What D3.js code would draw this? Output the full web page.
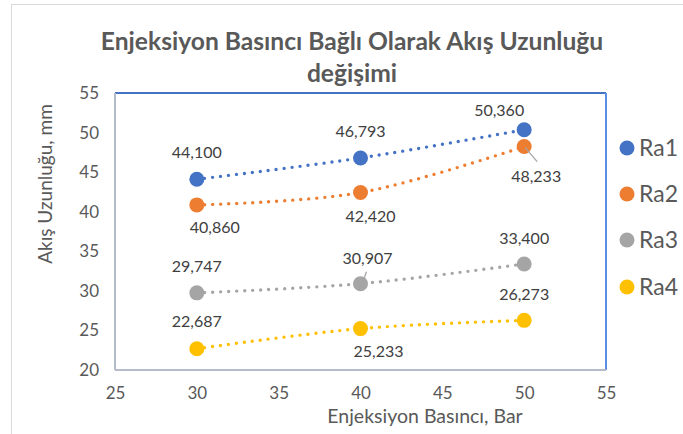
<!DOCTYPE html>
<html>
<head>
<meta charset="utf-8">
<script src="https://cdn.jsdelivr.net/npm/d3@7"></script>
<style>
  body { margin: 0; background: #fff; }
  text { font-family: Lato, "Noto Sans", sans-serif; }
</style>
</head>
<body>
<script>
// data
var pressures = [30, 40, 50];
var seriesNames = ["Ra1", "Ra2", "Ra3", "Ra4"];
var ra1 = [44.100, 46.793, 50.360];
var ra2 = [40.860, 42.420, 48.233];
var ra3 = [29.747, 30.907, 33.400];
var ra4 = [22.687, 25.233, 26.273];
var xTicks = [25, 30, 35, 40, 45, 50, 55];
var yTicks = [20, 25, 30, 35, 40, 45, 50, 55];

var colors = ["#4472C4", "#ED7D31", "#A5A5A5", "#FFC000"];
var allSeries = [ra1, ra2, ra3, ra4];

// label offsets in px relative to each point (layout, not data)
var labelOffsets = [
    [[0, -27], [0, -27], [-25, -19]],
    [[18, 22], [10, 24], [12, 30]],
    [[0, -27], [7, -25], [0, -26]],
    [[0, -27], [18, 23], [0, -26]]
];

var width = 683, height = 434;
var plotLeft = 115, plotRight = 606, plotTop = 93, plotBottom = 370;

var svg = d3.select("body")
    .append("svg")
    .attr("width", width)
    .attr("height", height);

// outer chart border
svg.append("rect")
    .attr("x", 11.5).attr("y", 4.5)
    .attr("width", 700).attr("height", 500)
    .attr("fill", "none")
    .attr("stroke", "#D9D9D9");

var x = d3.scaleLinear().domain([25, 55]).range([plotLeft, plotRight]);
var y = d3.scaleLinear().domain([20, 55]).range([plotBottom, plotTop]);

// title
svg.append("text")
    .attr("x", 352).attr("y", 50)
    .attr("text-anchor", "middle")
    .attr("font-size", 24.6)
    .attr("font-weight", "bold")
    .attr("fill", "#595959")
    .text("Enjeksiyon Basıncı Bağlı Olarak Akış Uzunluğu");
svg.append("text")
    .attr("x", 352).attr("y", 82)
    .attr("text-anchor", "middle")
    .attr("font-size", 24.6)
    .attr("font-weight", "bold")
    .attr("fill", "#595959")
    .text("değişimi");

// axes (labels only)
var xAxis = svg.append("g")
    .attr("transform", "translate(0," + plotBottom + ")")
    .call(d3.axisBottom(x).tickValues(xTicks).tickSize(0).tickPadding(17));
var yAxis = svg.append("g")
    .attr("transform", "translate(" + plotLeft + ",0)")
    .call(d3.axisLeft(y).tickValues(yTicks).tickSize(0).tickPadding(16));
[xAxis, yAxis].forEach(function(a) {
    a.select(".domain").remove();
    a.selectAll("text")
        .attr("font-family", "Lato, sans-serif")
        .attr("font-size", 17)
        .attr("fill", "#595959");
});

// plot area border
svg.append("line").attr("x1", plotLeft).attr("x2", plotRight).attr("y1", plotTop).attr("y2", plotTop)
    .attr("stroke", "#4472C4").attr("stroke-width", 2);
svg.append("line").attr("x1", plotRight).attr("x2", plotRight).attr("y1", plotTop).attr("y2", plotBottom)
    .attr("stroke", "#5B8EE0").attr("stroke-width", 2);
svg.append("line").attr("x1", plotLeft).attr("x2", plotLeft).attr("y1", plotTop).attr("y2", plotBottom)
    .attr("stroke", "#B4BCCC").attr("stroke-width", 2);
svg.append("line").attr("x1", plotLeft).attr("x2", plotRight).attr("y1", plotBottom).attr("y2", plotBottom)
    .attr("stroke", "#B4BCCC").attr("stroke-width", 2);

// axis titles
svg.append("text")
    .attr("x", 425).attr("y", 423)
    .attr("text-anchor", "middle")
    .attr("font-size", 19.5)
    .attr("fill", "#595959")
    .text("Enjeksiyon Basıncı, Bar");
svg.append("text")
    .attr("transform", "translate(52,184) rotate(-90)")
    .attr("text-anchor", "middle")
    .attr("font-size", 19)
    .attr("fill", "#595959")
    .text("Akış Uzunluğu, mm");

var line = d3.line()
    .x(function(d, i) { return x(pressures[i]); })
    .y(function(d) { return y(d); })
    .curve(d3.curveCardinal.tension(0));

function fmt(v) {
    return d3.format(".3f")(v).replace(".", ",");
}

allSeries.forEach(function(vals, s) {
    var g = svg.append("g");

    g.append("path")
        .attr("d", line(vals))
        .attr("fill", "none")
        .attr("stroke", colors[s])
        .attr("stroke-width", 3.4)
        .attr("stroke-linecap", "round")
        .attr("stroke-dasharray", "0 8");

    g.selectAll("circle")
        .data(vals)
        .enter()
        .append("circle")
        .attr("cx", function(d, i) { return x(pressures[i]); })
        .attr("cy", function(d) { return y(d); })
        .attr("r", 7.5)
        .attr("fill", colors[s]);
});

// leader lines for the two shifted labels
svg.append("line")
    .attr("x1", x(pressures[2]) + 1).attr("y1", y(ra2[2]) + 1)
    .attr("x2", x(pressures[2]) + 13).attr("y2", y(ra2[2]) + 15)
    .attr("stroke", "#A6A6A6").attr("stroke-width", 1.3);
svg.append("line")
    .attr("x1", x(pressures[1]) + 2).attr("y1", y(ra3[1]) - 1)
    .attr("x2", x(pressures[1]) + 6).attr("y2", y(ra3[1]) - 12)
    .attr("stroke", "#A6A6A6").attr("stroke-width", 1.3);

// data labels
allSeries.forEach(function(vals, s) {
    svg.append("g").selectAll("text")
        .data(vals)
        .enter()
        .append("text")
        .attr("x", function(d, i) { return x(pressures[i]) + labelOffsets[s][i][0]; })
        .attr("y", function(d, i) { return y(d) + labelOffsets[s][i][1]; })
        .attr("dy", "0.36em")
        .attr("text-anchor", "middle")
        .attr("font-size", 16)
        .attr("fill", "#404040")
        .text(function(d) { return fmt(d); });
});

// legend
var legendY = [148, 194, 240, 287];
var legend = svg.selectAll(".legend")
    .data(seriesNames)
    .enter()
    .append("g")
    .attr("class", "legend")
    .attr("transform", function(d, i) { return "translate(627," + legendY[i] + ")"; });
legend.append("circle")
    .attr("r", 7.5)
    .attr("fill", function(d, i) { return colors[i]; });
legend.append("text")
    .attr("x", 12)
    .attr("dy", "0.36em")
    .attr("font-size", 23)
    .attr("fill", "#595959")
    .text(function(d) { return d; });
</script>
</body>
</html>
